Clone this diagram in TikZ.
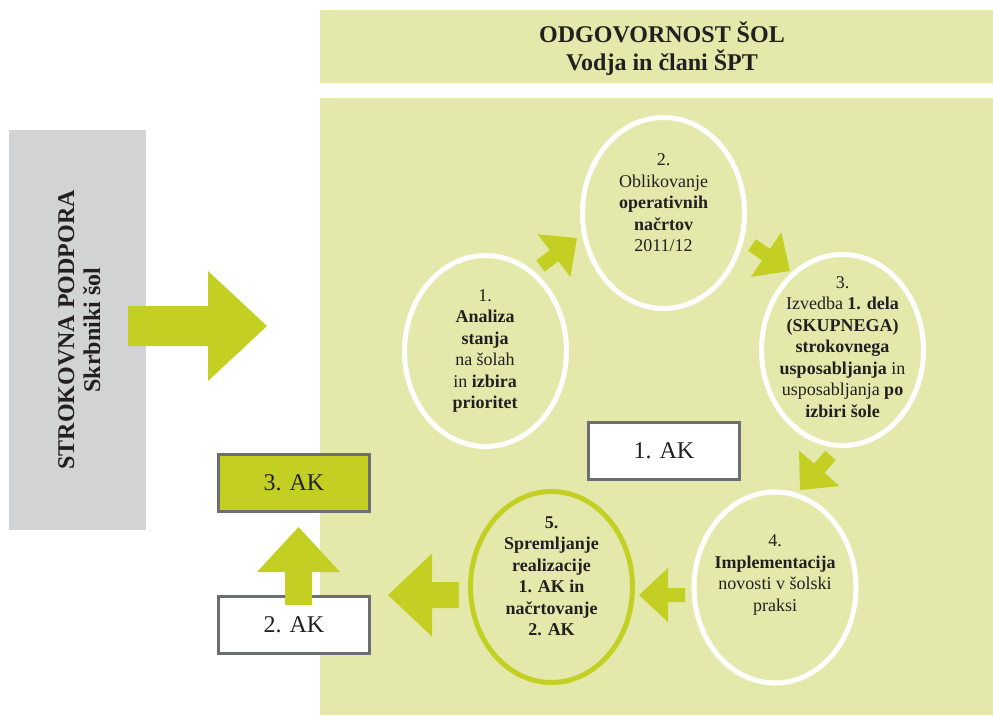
\documentclass[tikz,border=0pt]{standalone}
\usepackage{fontspec}
\setmainfont{Liberation Serif}
\usetikzlibrary{shapes.geometric,calc}
\definecolor{bgreen}{RGB}{228,233,171}
\definecolor{agreen}{RGB}{195,208,35}
\definecolor{sgray}{RGB}{209,211,212}
\definecolor{bord}{RGB}{109,110,113}
\definecolor{ink}{RGB}{35,31,32}
% fat arrow: #1 tail, #2 tip, #3 shaft half width, #4 head half width, #5 head length
\newcommand{\fatarr}[5]{%
  \fill[agreen] ($(#1)!#3!90:(#2)$)
    -- ($($(#2)!#5!(#1)$)!#3!90:(#2)$)
    -- ($($(#2)!#5!(#1)$)!#4!90:(#2)$)
    -- (#2)
    -- ($($(#2)!#5!(#1)$)!#4!-90:(#2)$)
    -- ($($(#2)!#5!(#1)$)!#3!-90:(#2)$)
    -- ($(#1)!#3!-90:(#2)$) -- cycle;}
\tikzset{
  panel/.style={rectangle, fill=bgreen, inner sep=0pt, outer sep=0pt, anchor=north west},
  akbox/.style={rectangle, draw=bord, line width=3pt, fill=white, inner sep=0pt,
    minimum width=151pt, minimum height=57pt, text=ink,
    font=\fontsize{24}{28}\selectfont},
  ring/.style={ellipse, draw=white, line width=5pt, inner sep=0pt,
    minimum width=162pt, minimum height=191pt},
  ctext/.style={align=center, text=ink, inner sep=0pt,
    font=\fontsize{18}{21.5}\selectfont},
  htext/.style={anchor=base, text=ink, inner sep=0pt,
    font=\fontsize{24}{28}\selectfont\bfseries},
}
\begin{document}
\begin{tikzpicture}[x=1pt,y=-1pt]
\useasboundingbox (0,0) rectangle (993,715);
\fill[white] (0,0) rectangle (993,715);
% panels
\node[panel, minimum width=673pt, minimum height=73pt] (head) at (320,10) {};
\node[panel, minimum width=673pt, minimum height=617pt] (main) at (320,98) {};
\node[htext] (h1) at (662,42) {ODGOVORNOST ŠOL};
\node[htext] (h2) at (662,70) {Vodja in člani ŠPT};
% support box
\node[rectangle, fill=sgray, inner sep=0pt, minimum width=137pt, minimum height=400pt] (sup) at (77.5,330) {};
\node[htext, rotate=90] (s1) at (74,330) {STROKOVNA PODPORA};
\node[htext, rotate=90] (s2) at (100,330) {Skrbniki šol};
% big arrow into main
\coordinate (bT) at (128,326);
\coordinate (bP) at (267,326);
\fatarr{bT}{bP}{20pt}{55pt}{59pt}
% AK boxes
\node[akbox] (ak1) at (664,451) {1. AK};
\node[akbox, fill=agreen] (ak3) at (294,483) {3. AK};
\node[akbox] (ak2) at (294,624.5) {2. AK};
% circles
\node[ring] (c1) at (485.5,351) {};
\node[ring] (c2) at (663.5,213) {};
\node[ring] (c3) at (842.5,350) {};
\node[ring] (c4) at (775,587.5) {};
\node[ring, draw=agreen] (c5) at (551.5,587) {};
\node[ctext] (t1) at (485,351) {1.\\\textbf{Analiza}\\\textbf{stanja}\\na šolah\\in \textbf{izbira}\\\textbf{prioritet}};
\node[ctext] (t2) at (663.5,203) {2.\\Oblikovanje\\\textbf{operativnih}\\\textbf{načrtov}\\2011/12};
\node[ctext] (t3) at (842.5,347) {3.\\Izvedba \textbf{1. dela}\\\textbf{(SKUPNEGA)}\\\textbf{strokovnega}\\\textbf{usposabljanja} in\\usposabljanja \textbf{po}\\\textbf{izbiri šole}};
\node[ctext] (t4) at (775,575) {4.\\\textbf{Implementacija}\\novosti v šolski\\praksi};
\node[ctext, font=\fontsize{18}{21.5}\selectfont\bfseries] (t5) at (551.5,576) {5.\\Spremljanje\\realizacije\\1. AK in\\načrtovanje\\2. AK};
% cycle arrows
\coordinate (a12T) at (540.5,266);  \coordinate (a12P) at (577,238);
\coordinate (a23T) at (752,245);    \coordinate (a23P) at (790,271);
\coordinate (a34T) at (830.5,455.5);\coordinate (a34P) at (800,490);
\coordinate (a45T) at (685,595);    \coordinate (a45P) at (639,595);
\coordinate (a5T) at (459,595);     \coordinate (a5P) at (388,595);
\coordinate (upT) at (298.5,605);   \coordinate (upP) at (298.5,527);
\fatarr{a12T}{a12P}{7pt}{27pt}{29pt}
\fatarr{a23T}{a23P}{7pt}{27pt}{29pt}
\fatarr{a34T}{a34P}{7pt}{27pt}{29pt}
\fatarr{a45T}{a45P}{7pt}{27pt}{29pt}
\fatarr{a5T}{a5P}{13pt}{41.5pt}{44pt}
\fatarr{upT}{upP}{13.5pt}{41.5pt}{45pt}
\end{tikzpicture}
\end{document}
